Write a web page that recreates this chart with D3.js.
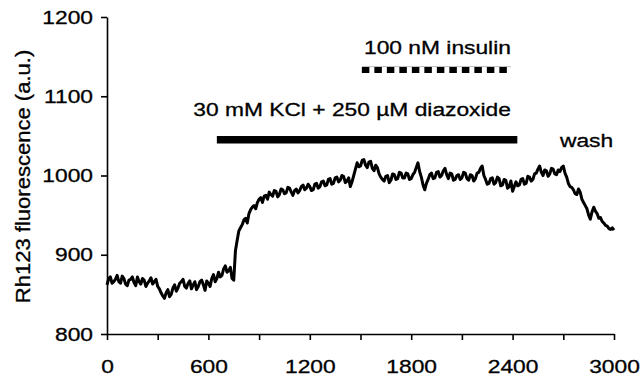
<!DOCTYPE html>
<html>
<head>
<meta charset="utf-8">
<script src="https://cdn.jsdelivr.net/npm/d3@7"></script>
<style>
  body { margin: 0; background: #fff; }
  svg { display: block; font-family: "Liberation Sans", Arial, sans-serif; }
  svg text { fill: #000; stroke: #000; stroke-width: 0.3; }
  .axis path, .axis line { stroke: #000; stroke-width: 1.6; }
  .axis text { font-size: 19px; }
</style>
</head>
<body>
<div id="chart"></div>
<script>
// Trace: time (s) and Rh123 fluorescence (a.u.), every 10 s
const times = d3.range(0, 3001, 10);
const fluorescence = [
  862, 870, 872, 864, 866, 869, 874, 866, 864, 873, 870, 863, 861, 868, 869, 872, 865, 861, 872, 866,
  863, 870, 868, 860, 864, 867, 871, 863, 866, 869, 860, 857, 852, 848, 845, 852, 856, 847, 850, 858,
  862, 854, 858, 864, 866, 869, 860, 858, 864, 867, 857, 862, 866, 856, 860, 866, 868, 862, 855, 867,
  864, 860, 870, 875, 866, 870, 878, 872, 874, 882, 886, 878, 880, 884, 870, 868, 905, 918, 930, 934,
  938, 944, 946, 940, 952, 957, 960, 962, 958, 966, 970, 972, 966, 974, 975, 970, 979, 976, 974, 981,
  980, 973, 976, 983, 982, 977, 978, 985, 984, 979, 975, 981, 983, 978, 981, 986, 988, 982, 984, 989,
  986, 981, 982, 989, 990, 984, 986, 992, 993, 987, 988, 995, 996, 989, 990, 997, 998, 992, 994, 1000,
  999, 991, 993, 997, 986, 992, 1000, 1008, 1016, 1011, 1012, 1019, 1020, 1013, 1010, 1017, 1018, 1009, 1006, 1013,
  1010, 1002, 998, 995, 993, 999, 1000, 991, 994, 1002, 1001, 995, 996, 1004, 1003, 997, 997, 1003, 1002, 995,
  996, 1001, 1004, 1010, 1016, 1005, 998, 988, 982, 990, 995, 1001, 1003, 996, 997, 1004, 1005, 998, 1000, 1006,
  1009, 1001, 996, 1003, 1002, 994, 995, 1000, 1001, 995, 997, 1004, 1003, 996, 994, 1001, 1000, 993, 996, 1003,
  1004, 1009, 1012, 1000, 995, 989, 990, 996, 997, 989, 991, 998, 996, 987, 988, 995, 994, 984, 986, 993,
  980, 986, 992, 987, 988, 995, 996, 989, 990, 999, 998, 993, 995, 1002, 1003, 1008, 1012, 1004, 1000, 1007,
  1006, 999, 1002, 1009, 1008, 1002, 1001, 1007, 1005, 1010, 1012, 1003, 998, 990, 986, 985, 982, 977, 976, 983,
  979, 970, 966, 962, 958, 950, 945, 954, 960, 955, 952, 946, 947, 942, 940, 937, 936, 933, 932, 934,
  931
];

// Axis ticks
const xTicks = [0, 600, 1200, 1800, 2400, 3000];
const xMinorTicks = [300, 900, 1500, 2100, 2700];
const yTicks = [800, 900, 1000, 1100, 1200];

// Treatment bars: [start, end] in s, and the level they sit at
const kclBar = [650, 2428];
const kclLevel = 1045;
const insulinBar = [1508, 2390];
const insulinLevel = 1133;

const width = 641, height = 378;
const stretch = 1.2; // text in the figure is drawn wide

const x = d3.scaleLinear().domain([0, 3000]).range([107, 614]);
const y = d3.scaleLinear().domain([800, 1200]).range([334, 17]);

const svg = d3.select('#chart').append('svg')
    .attr('width', width)
    .attr('height', height);

// Y axis
const yAxis = svg.append('g')
    .attr('class', 'axis')
    .attr('transform', `translate(${x(0)},0)`)
    .call(d3.axisLeft(y).tickValues(yTicks).tickSize(6).tickSizeOuter(0).tickFormat(d3.format('d')));
yAxis.selectAll('text')
    .attr('x', -14 / stretch)
    .attr('transform', `scale(${stretch},1)`);

// X axis: minor ticks first, then labelled ones
svg.append('g')
    .attr('class', 'axis')
    .attr('transform', `translate(0,${y(800)})`)
    .call(d3.axisBottom(x).tickValues(xMinorTicks).tickSize(6).tickFormat(''))
    .select('.domain').remove();

const xAxis = svg.append('g')
    .attr('class', 'axis')
    .attr('transform', `translate(0,${y(800)})`)
    .call(d3.axisBottom(x).tickValues(xTicks).tickSize(6).tickSizeOuter(0).tickFormat(d3.format('d')));
xAxis.selectAll('text')
    .attr('y', 39)
    .attr('dy', 0)
    .attr('transform', `scale(${stretch},1)`);

// Y axis title
svg.append('text')
    .attr('transform', `translate(30,${(y(800) + y(1200)) / 2 + 1}) rotate(-90) scale(1.13,1)`)
    .attr('text-anchor', 'middle')
    .style('font-size', '19.5px')
    .text('Rh123 fluorescence (a.u.)');

// Trace
const line = d3.line()
    .x((d, i) => x(times[i]))
    .y(d => y(d));

svg.append('path')
    .datum(fluorescence)
    .attr('d', line)
    .attr('fill', 'none')
    .attr('stroke', '#000')
    .attr('stroke-width', 3)
    .attr('stroke-linejoin', 'round');

// KCl + diazoxide bar
svg.append('line')
    .attr('x1', x(kclBar[0]))
    .attr('x2', x(kclBar[1]))
    .attr('y1', y(kclLevel))
    .attr('y2', y(kclLevel))
    .attr('stroke', '#000')
    .attr('stroke-width', 7.5);

// Insulin bar (dotted)
svg.append('line')
    .attr('x1', x(insulinBar[0]))
    .attr('x2', x(insulinBar[1]))
    .attr('y1', y(insulinLevel) - 3.5)
    .attr('y2', y(insulinLevel) - 3.5)
    .attr('stroke', '#bbb')
    .attr('stroke-width', 1);
svg.append('line')
    .attr('x1', x(insulinBar[0]))
    .attr('x2', x(insulinBar[1]))
    .attr('y1', y(insulinLevel))
    .attr('y2', y(insulinLevel))
    .attr('stroke', '#000')
    .attr('stroke-width', 6)
    .attr('stroke-dasharray', '7.5,5');

// Labels
function label(text, px, py, anchor) {
    svg.append('text')
        .attr('transform', `translate(${px},${py}) scale(${stretch},1)`)
        .attr('text-anchor', anchor)
        .style('font-size', '19px')
        .text(text);
}
label('100 nM insulin', x(insulinBar[1]), 53.5, 'end');
label('30 mM KCl + 250 µM diazoxide', x(insulinBar[1]), 115.5, 'end');
label('wash', 560, 146.5, 'start');
</script>
</body>
</html>
